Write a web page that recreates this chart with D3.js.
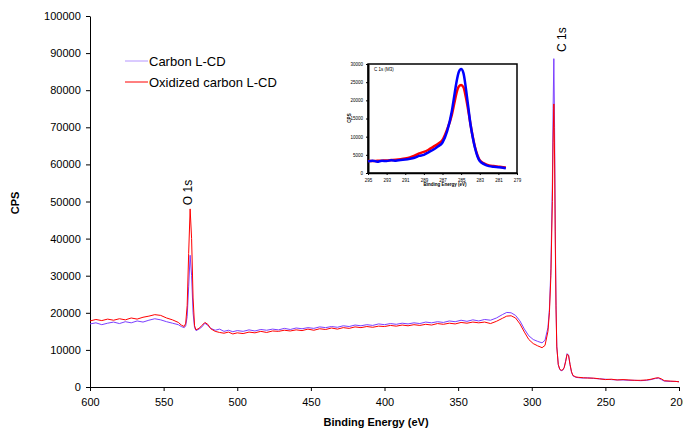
<!DOCTYPE html>
<html>
<head>
<meta charset="utf-8">
<script src="https://cdn.jsdelivr.net/npm/d3@7"></script>
<style>
  body { margin: 0; background: #fff; }
  svg { display: block; font-family: "Liberation Sans", Arial, sans-serif; }
  .axis path, .axis line { stroke: #000; }
  .axis text { fill: #000; }
</style>
</head>
<body>
<script>
// survey spectrum, binding energy (eV)
const energies = [600,596,592,588,584,580,576,572,568,564,560,556,552,548,544,540,538,536,535,534,533,532,531,530,529,528,526,524,522,520,518,515,512,509,506,503,500,496,492,488,484,480,476,472,468,464,460,456,452,448,444,440,436,432,428,424,420,416,412,408,404,400,396,392,388,384,380,376,372,368,364,360,356,352,348,344,340,336,332,328,324,320,317,314,311,308,305,302,299,296,293,291,289,288,287,286,285.5,285,284.5,284,283.5,283,282,281,280,279,278,277,276,275,274,273,272,270,268,265,262,258,254,250,246,242,238,234,230,226,222,219,216,214,212,210,206,202,200];

const carbon = [17000,17300,16800,17200,17500,17100,17600,17300,17800,17500,18000,18400,18100,17600,17200,16800,16300,16000,16500,19000,27000,35500,30000,20000,16000,15200,15600,16200,17200,16600,15800,15300,15600,15000,15300,14900,15200,15000,15400,15100,15500,15300,15600,15400,15800,15500,15900,15700,16000,15800,16200,16000,16300,16100,16500,16300,16700,16500,16800,16600,17000,16800,17100,16900,17200,17000,17300,17100,17500,17300,17600,17400,17800,17600,18000,17700,18100,17800,18200,18000,18600,19500,20100,20000,19300,17800,15600,13800,12800,12300,11900,12600,16000,21000,32000,55000,75000,88500,70000,42000,22000,11000,6000,4700,4400,4500,5200,7000,9000,8600,6000,4000,3000,2600,2500,2400,2500,2300,2200,2100,2000,1900,1900,1800,1800,1700,1800,2000,2300,2400,2000,1600,1500,1500,1400];

const oxidized = [17800,18200,17900,18300,18000,18400,18100,18600,18300,18800,19100,19500,19300,18600,18100,17400,16700,16300,17200,22000,36000,48000,40000,24000,16500,15400,15800,16600,17400,16900,15700,15000,14700,14500,14800,14300,14600,14400,14800,14600,15000,14700,15100,15000,15300,15100,15400,15200,15600,15300,15700,15500,15900,15600,16000,15800,16200,16000,16300,16100,16400,16300,16600,16400,16700,16500,16800,16600,16900,16700,17100,16900,17200,17000,17400,17200,17500,17300,17500,17100,17700,18500,19100,19200,18600,17000,14800,12800,11700,11100,10600,11200,15000,20000,30000,50000,66000,76300,62000,38000,21000,10800,6100,4800,4500,4600,5200,6800,8800,8500,6100,4100,3100,2700,2600,2500,2400,2400,2200,2000,2100,1900,2000,1900,1800,1800,1900,2100,2400,2500,2200,1700,1600,1500,1400];

const seriesNames = ["Carbon L-CD", "Oxidized carbon L-CD"];
const yTicks = [0,10000,20000,30000,40000,50000,60000,70000,80000,90000,100000];
const xTicks = [600,550,500,450,400,350,300,250,200];

// inset: C 1s (M3) high resolution
const insetEnergies = [295,294.5,294,293.5,293,292.5,292,291.5,291,290.5,290,289.5,289,288.5,288,287.5,287,286.5,286,285.75,285.5,285.25,285,284.75,284.5,284.25,284,283.75,283.5,283.25,283,282.5,282,281.5,281,280.5,280.2];
const insetCarbon = [3200,3400,3100,3350,3300,3500,3400,3600,3700,3900,4200,4700,5000,5700,6400,7300,8400,11500,17000,21000,25000,27800,28600,27500,23500,18500,13500,9800,6800,4600,3300,2400,1900,1700,1600,1450,1300];
const insetOxidized = [3300,3300,3350,3400,3450,3550,3650,3800,4000,4300,4800,5400,5800,6400,7200,8000,9100,12000,16000,19000,22000,23800,24200,23600,21000,17500,13500,10000,7000,4900,3500,2600,2100,1900,1750,1600,1500];
const insetYTicks = [0,5000,10000,15000,20000,25000,30000];
const insetXTicks = [295,293,291,289,287,285,283,281,279];

const W = 683, H = 432;
const svg = d3.select("body").append("svg").attr("width", W).attr("height", H);

const x = d3.scaleLinear().domain([600, 200]).range([90, 679]);
const y = d3.scaleLinear().domain([0, 100000]).range([387, 16]);
const colors = ["#7b3fff", "#ff0000"];

svg.append("g")
  .attr("class", "axis")
  .attr("transform", "translate(0,387)")
  .call(d3.axisBottom(x).tickValues(xTicks).tickSize(4).tickSizeOuter(0).tickFormat(d3.format("d")))
  .call(g => g.selectAll("text").attr("font-size", 11).attr("dy", "1.1em"));

svg.append("g")
  .attr("class", "axis")
  .attr("transform", "translate(90,0)")
  .call(d3.axisLeft(y).tickValues(yTicks).tickSize(4).tickSizeOuter(0).tickFormat(d3.format("d")))
  .call(g => g.selectAll("text").attr("font-size", 11).attr("dx", "-0.2em"));

svg.append("text")
  .attr("transform", "translate(19,203) rotate(-90)")
  .attr("text-anchor", "middle")
  .attr("font-size", 11).attr("font-weight", "bold")
  .text("CPS");

svg.append("text")
  .attr("x", 376).attr("y", 426)
  .attr("text-anchor", "middle")
  .attr("font-size", 11).attr("font-weight", "bold")
  .text("Binding Energy  (eV)");

const line = d3.line().x(d => x(d[0])).y(d => y(d[1]));
[carbon, oxidized].forEach((vals, i) => {
  svg.append("path")
    .datum(energies.map((e, j) => [e, vals[j]]))
    .attr("fill", "none")
    .attr("stroke", colors[i])
    .attr("stroke-width", 1)
    .attr("d", line);
});

// peak labels
svg.append("text")
  .attr("transform", `translate(${x(532) + 2},${y(49000)}) rotate(-90)`)
  .attr("font-size", 12)
  .text("O 1s");
svg.append("text")
  .attr("transform", `translate(${x(285) + 12},${y(90300)}) rotate(-90)`)
  .attr("font-size", 12)
  .text("C 1s");

// legend
const legend = svg.append("g");
seriesNames.forEach((name, i) => {
  const ly = 61 + i * 21;
  legend.append("line")
    .attr("x1", 125).attr("x2", 148).attr("y1", ly).attr("y2", ly)
    .attr("stroke", i === 0 ? "#b596ff" : colors[i]).attr("stroke-width", 1);
  legend.append("text")
    .attr("x", 149).attr("y", ly + 5)
    .attr("font-size", 13)
    .text(name);
});

// inset
const ix = d3.scaleLinear().domain([295, 279]).range([368, 517]);
const iy = d3.scaleLinear().domain([0, 30000]).range([173, 64]);
const inset = svg.append("g");

inset.append("rect")
  .attr("x", 368).attr("y", 64).attr("width", 149).attr("height", 109)
  .attr("fill", "#fff").attr("stroke", "#000").attr("stroke-width", 1.5);

inset.append("g")
  .attr("class", "axis")
  .attr("transform", "translate(0,173)")
  .call(d3.axisBottom(ix).tickValues(insetXTicks).tickSize(2).tickSizeOuter(0).tickFormat(d3.format("d")))
  .call(g => g.select(".domain").attr("stroke-width", 1.5))
  .call(g => g.selectAll("text").attr("font-size", 4.5).attr("dy", "0.9em"));

inset.append("g")
  .attr("class", "axis")
  .attr("transform", "translate(368,0)")
  .call(d3.axisLeft(iy).tickValues(insetYTicks).tickSize(2).tickSizeOuter(0).tickFormat(d3.format("d")))
  .call(g => g.select(".domain").attr("stroke-width", 2))
  .call(g => g.selectAll("text").attr("font-size", 4.5));

inset.append("text")
  .attr("transform", "translate(351,118) rotate(-90)")
  .attr("text-anchor", "middle")
  .attr("font-size", 4.5).attr("font-weight", "bold")
  .text("CPS");

inset.append("text")
  .attr("x", 445).attr("y", 186)
  .attr("text-anchor", "middle")
  .attr("font-size", 4.5).attr("font-weight", "bold")
  .text("Binding Energy  (eV)");

inset.append("text")
  .attr("x", 374).attr("y", 71)
  .attr("font-size", 4.5)
  .text("C 1s (M3)");

const iline = d3.line().curve(d3.curveMonotoneX).x(d => ix(d[0])).y(d => iy(d[1]));
[[insetOxidized, "#ff0000"], [insetCarbon, "#0000ff"]].forEach(([vals, c]) => {
  inset.append("path")
    .datum(insetEnergies.map((e, j) => [e, vals[j]]))
    .attr("fill", "none")
    .attr("stroke", c)
    .attr("stroke-width", 2.5)
    .attr("d", iline);
});
</script>
</body>
</html>
